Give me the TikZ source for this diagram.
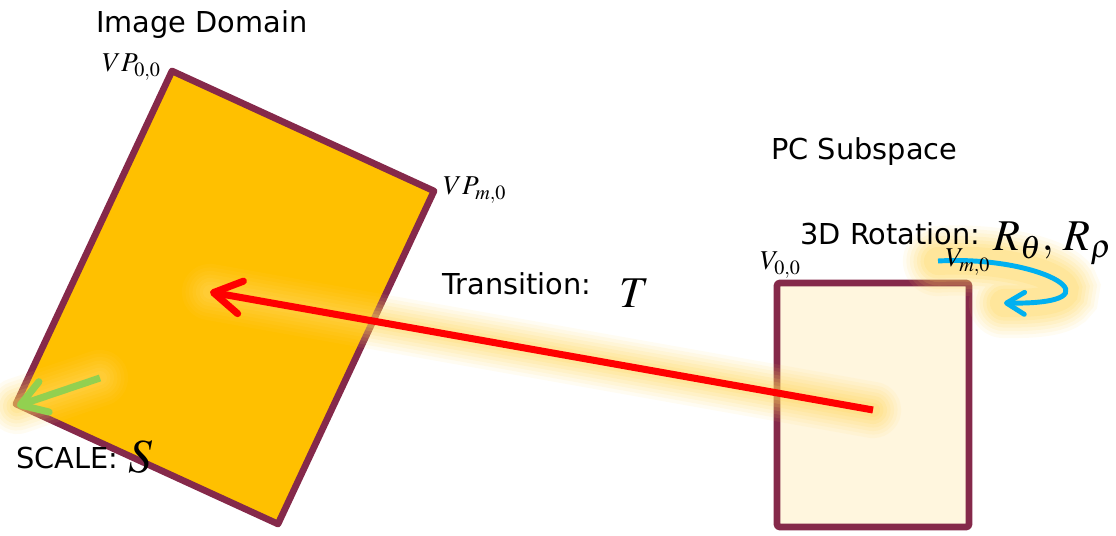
\documentclass[tikz,border=0pt]{standalone}
\usepackage[no-math]{fontspec}
\newfontfamily\labelfont{DejaVu Sans}
\usepackage{mathptmx}
\usepackage{xcolor}
\definecolor{frameplum}{RGB}{133,41,74}
\definecolor{domainamber}{RGB}{255,192,0}
\definecolor{subcream}{RGB}{255,246,222}
\definecolor{glowyellow}{RGB}{255,214,90}
\definecolor{scalegreen}{RGB}{146,208,80}
\definecolor{rotblue}{RGB}{0,176,240}
\usepackage{tikz}
\usetikzlibrary{arrows.meta, positioning, calc}

\begin{document}
\begin{tikzpicture}[x=0.02cm, y=-0.02cm,
  title/.style={font=\labelfont\fontsize{16.4}{20}\selectfont, anchor=base west, inner sep=0pt},
  corner/.style={font=\fontsize{15.5}{18}\selectfont, anchor=base west, inner sep=0pt},
  bigmath/.style={font=\fontsize{25}{28}\selectfont, anchor=base west, inner sep=0pt},
  frame/.style={draw=frameplum, line width=3.8pt, line join=round},
  glow/.style={draw=glowyellow, line cap=round, opacity=#1}]
\useasboundingbox (0,0) rectangle (1116,536);

% corners of both domains
\coordinate (vp00) at (172,71);
\coordinate (vpm0) at (434,191);
\coordinate (vpmn) at (278,524);
\coordinate (vp0n) at (16,404);
\coordinate (v00) at (777,283);
\coordinate (vmn) at (969,527);

\fill[domainamber] (vp00) -- (vpm0) -- (vpmn) -- (vp0n) -- cycle;
\draw[frame] (vp00) -- (vpm0) -- (vpmn) -- (vp0n) -- cycle;
\draw[frame, fill=subcream, rounded corners=1.5pt] (v00) rectangle (vmn);

% arrow ends
\coordinate (ttail) at (873,410);
\coordinate (ttip) at (210,292);
\coordinate (stail) at (100,378);
\coordinate (stip) at (17,406);
\coordinate (rstart) at (938,261);
\coordinate (rend) at (1004,303);

\foreach \w/\o in {32/0.08, 28/0.09, 24/0.1, 20/0.12, 16/0.14, 12/0.16, 8/0.18} {
  \draw[glow=\o, line width=\w pt] (ttail) -- (ttip);
  \draw[glow=\o, line width=\w pt] (stail) -- (stip);
  \draw[glow=\o, line width=\w pt+8pt] (rstart) .. controls (1045,255) and (1125,305) .. (rend);
}

\draw[red, line width=4pt, -{Straight Barb[length=5.5mm, width=6.6mm, round]}] (ttail) -- (ttip);
\draw[scalegreen, line width=4pt, -{Straight Barb[length=5mm, width=6.4mm, round]}] (stail) -- (stip);
\draw[rotblue, line width=2.8pt, -{Straight Barb[length=3.6mm, width=4.4mm, round]}]
  (rstart) .. controls (1045,255) and (1125,305) .. (rend);

% labels
\node[title] (imgdom) at (96,33) {Image Domain};
\node[title] (pcsub) at (771,160) {PC Subspace};
\node[title] (rotlbl) at (800,245) {3D Rotation:};
\node[bigmath] (rotmath) at (993,251) {$R_\theta,\,R_\rho$};
\node[title] (translbl) at (442,295) {Transition:};
\node[bigmath] (transmath) at (619,308) {$T$};
\node[title] (scalelbl) at (16,469) {SCALE:};
\node[bigmath, font=\fontsize{27}{30}\selectfont] (scalemath) at (128,473) {$S$};
\node[corner] (lvp00) at (102,72) {$VP_{0,0}$};
\node[corner] (lvpm0) at (443,195) {$VP_{m,0}$};
\node[corner] (lv00) at (760,270) {$V_{0,0}$};
\node[corner] (lvm0) at (945,267) {$V_{m,0}$};
\end{tikzpicture}
\end{document}
